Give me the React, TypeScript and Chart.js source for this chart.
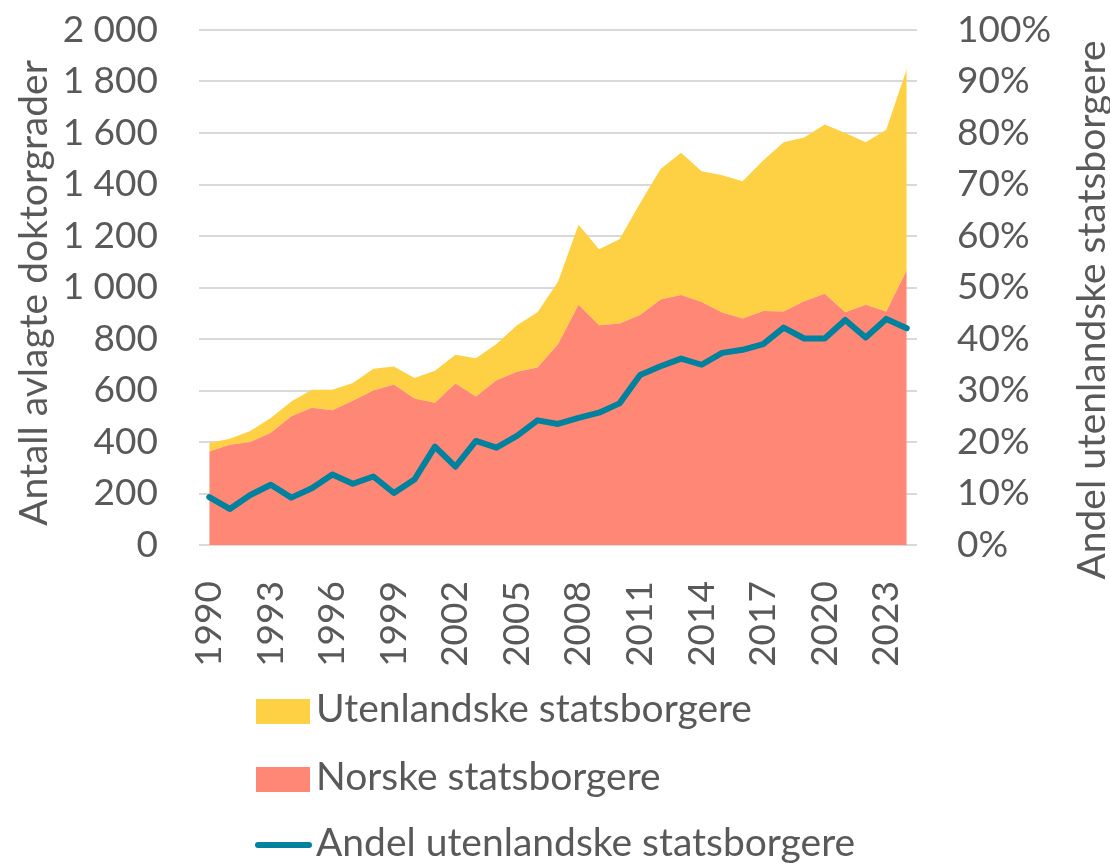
import React, { useEffect, useRef } from "react";
import { Chart, registerables } from "chart.js";

Chart.register(...registerables);

const years: string[] = [
  "1990","1991","1992","1993","1994","1995","1996","1997","1998","1999",
  "2000","2001","2002","2003","2004","2005","2006","2007","2008","2009",
  "2010","2011","2012","2013","2014","2015","2016","2017","2018","2019",
  "2020","2021","2022","2023","2024",
];

const norske: number[] = [
  363, 389, 400, 436, 500, 533, 523, 560, 600, 623,
  569, 552, 627, 577, 640, 673, 689, 780, 933, 853,
  860, 893, 953, 971, 944, 903, 880, 909, 907, 947,
  976, 904, 933, 907, 1067,
];

const utenlandske: number[] = [
  33, 24, 43, 57, 57, 70, 80, 69, 84, 70,
  80, 125, 112, 148, 141, 180, 215, 242, 311, 296,
  327, 434, 507, 552, 507, 533, 533, 584, 657, 636,
  657, 696, 631, 706, 782,
];

const andel: number[] = [
  9.3, 7.0, 9.7, 11.7, 9.2, 11.0, 13.7, 11.9, 13.3, 10.1,
  12.7, 19.1, 15.2, 20.2, 18.9, 21.2, 24.2, 23.5, 24.7, 25.7,
  27.5, 33.0, 34.7, 36.2, 35.0, 37.3, 37.9, 39.0, 42.2, 40.1,
  40.1, 43.7, 40.3, 43.9, 42.1,
];

const leftTitle = "Antall avlagte doktorgrader";
const rightTitle = "Andel utenlandske statsborgere";
const labelUtl = "Utenlandske statsborgere";
const labelNor = "Norske statsborgere";
const labelAndel = "Andel utenlandske statsborgere";

const YELLOW = "#FDD143";
const SALMON = "#FF8776";
const TEAL = "#00829F";
const TEXT = "#595959";
const GRID = "#D9D9D9";
const FONT = "Lato";
const TICK_SIZE = 37;
const TITLE_SIZE = 39;
const LEGEND_SIZE = 39;

function fmtThousands(v: number): string {
  if (v >= 1000) {
    return Math.floor(v / 1000) + " " + String(v % 1000).padStart(3, "0");
  }
  return String(v);
}

const overlayPlugin = {
  id: "overlay",
  afterDraw(chart: any) {
    const ctx = chart.ctx as CanvasRenderingContext2D;
    ctx.save();
    ctx.fillStyle = TEXT;
    ctx.font = `${TITLE_SIZE}px ${FONT}`;
    ctx.textAlign = "center";
    ctx.textBaseline = "middle";
    // left axis title
    ctx.save();
    ctx.translate(34, 293);
    ctx.rotate(-Math.PI / 2);
    ctx.fillText(leftTitle, 0, 0);
    ctx.restore();
    // right axis title
    ctx.save();
    ctx.translate(1092, 310);
    ctx.rotate(-Math.PI / 2);
    ctx.fillText(rightTitle, 0, 0);
    ctx.restore();

    // legend
    ctx.textAlign = "left";
    ctx.font = `${LEGEND_SIZE}px ${FONT}`;
    const ds = chart.data.datasets;
    const items = [
      { label: labelUtl, color: ds[2].backgroundColor, type: "box", y: 711 },
      { label: labelNor, color: ds[1].backgroundColor, type: "box", y: 779 },
      { label: labelAndel, color: ds[0].borderColor, type: "line", y: 845 },
    ];
    for (const it of items) {
      if (it.type === "box") {
        ctx.fillStyle = it.color;
        ctx.fillRect(256, it.y - 12, 54, 25);
      } else {
        ctx.strokeStyle = it.color;
        ctx.lineWidth = 6;
        ctx.lineCap = "round";
        ctx.beginPath();
        ctx.moveTo(258, it.y);
        ctx.lineTo(309, it.y);
        ctx.stroke();
      }
      ctx.fillStyle = TEXT;
      ctx.fillText(it.label, 316, it.y - 2);
    }
    ctx.restore();
  },
};

export default function App() {
  const ref = useRef<HTMLCanvasElement | null>(null);

  useEffect(() => {
    document.body.style.margin = "0";
    if (!ref.current) return;
    const chart = new Chart(ref.current, {
      type: "line",
      data: {
        labels: years,
        datasets: [
          {
            label: labelAndel,
            data: andel,
            yAxisID: "y1",
            borderColor: TEAL,
            backgroundColor: TEAL,
            borderWidth: 6,
            pointRadius: 0,
            fill: false,
            tension: 0,
            borderJoinStyle: "round",
            borderCapStyle: "round",
            order: 0,
          },
          {
            label: labelNor,
            data: norske,
            yAxisID: "y",
            borderWidth: 0,
            borderColor: SALMON,
            backgroundColor: SALMON,
            pointRadius: 0,
            fill: "origin",
            order: 1,
          },
          {
            label: labelUtl,
            data: utenlandske,
            yAxisID: "y",
            borderWidth: 0,
            borderColor: YELLOW,
            backgroundColor: YELLOW,
            pointRadius: 0,
            fill: "-1",
            order: 2,
          },
        ],
      },
      options: {
        responsive: false,
        animation: false,
        devicePixelRatio: 1,
        layout: { padding: { top: 30, left: 0, right: 0, bottom: 0 } },
        plugins: {
          legend: { display: false },
          tooltip: { enabled: false },
        },
        scales: {
          x: {
            type: "category",
            offset: true,
            grid: { display: false, drawTicks: false },
            border: { display: false },
            ticks: {
              autoSkip: false,
              maxRotation: 90,
              minRotation: 90,
              padding: 36,
              color: TEXT,
              font: { family: FONT, size: TICK_SIZE },
              callback: (_v: any, i: number) => (i % 3 === 0 ? years[i] : null),
            },
            afterFit: (s: any) => {
              s.height = 321;
              s.paddingLeft = 0;
              s.paddingRight = 0;
            },
          },
          y: {
            position: "left",
            stacked: true,
            min: 0,
            max: 2000,
            grid: { color: GRID, lineWidth: 2, drawTicks: false },
            border: { display: false },
            ticks: {
              stepSize: 200,
              padding: 41,
              color: TEXT,
              font: { family: FONT, size: TICK_SIZE },
              callback: (v: any) => fmtThousands(Number(v)),
            },
            afterFit: (s: any) => {
              s.width = 199;
              s.paddingTop = 0;
              s.paddingBottom = 0;
            },
          },
          y1: {
            position: "right",
            min: 0,
            max: 100,
            grid: { display: false, drawTicks: false },
            border: { display: false },
            ticks: {
              stepSize: 10,
              padding: 40,
              color: TEXT,
              font: { family: FONT, size: TICK_SIZE },
              callback: (v: any) => v + "%",
            },
            afterFit: (s: any) => {
              s.width = 193;
              s.paddingTop = 0;
              s.paddingBottom = 0;
            },
          },
        },
      },
      plugins: [overlayPlugin],
    } as any);
    return () => chart.destroy();
  }, []);

  return (
    <div style={{ width: 1110, height: 866 }}>
      <canvas ref={ref} width={1110} height={866} />
    </div>
  );
}
